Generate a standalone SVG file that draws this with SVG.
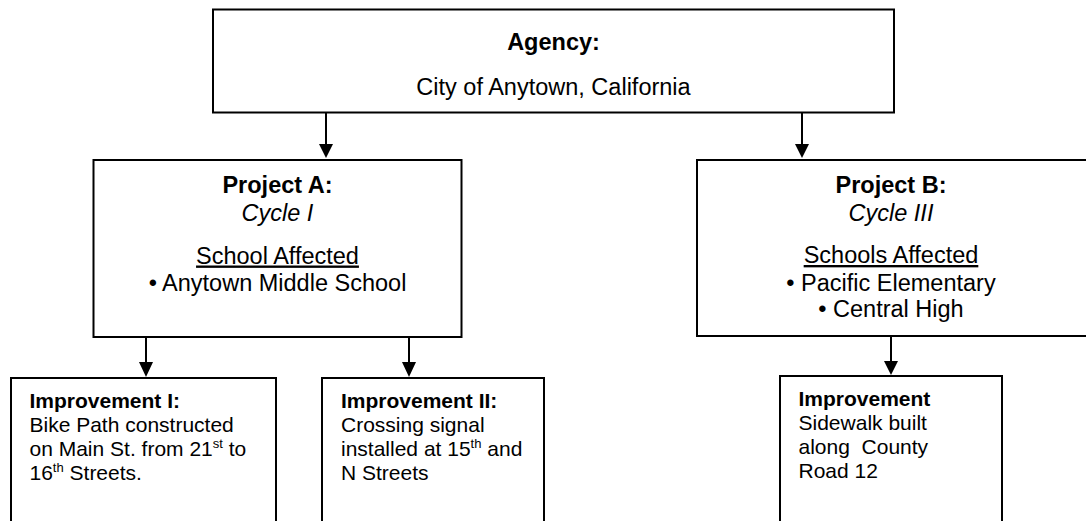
<svg xmlns="http://www.w3.org/2000/svg" width="1086" height="521" viewBox="0 0 1086 521">
  <style>
    .box { fill: #ffffff; stroke: #000000; stroke-width: 2; }
    .big { font-family: "Liberation Sans", Arial, sans-serif; font-size: 23.5px; fill: #000000; text-anchor: middle; }
    .small { font-family: "Liberation Sans", Arial, sans-serif; font-size: 21px; fill: #000000; }
    .b { font-weight: bold; }
    .i { font-style: italic; }
    .u { text-decoration: underline; }
    .sup { font-size: 13px; }
    .conn line { stroke: #000000; stroke-width: 2; }
    .conn polygon { fill: #000000; }
  </style>
  <rect x="0" y="0" width="1086" height="521" fill="#ffffff"/>

  <g id="connectors" class="conn">
    <line x1="326" y1="113" x2="326" y2="146"/>
    <polygon points="319,144 333,144 326,158"/>
    <line x1="802" y1="113" x2="802" y2="146"/>
    <polygon points="795,144 809,144 802,158"/>
    <line x1="146" y1="337" x2="146" y2="364"/>
    <polygon points="139,362 153,362 146,377"/>
    <line x1="409" y1="337" x2="409" y2="364"/>
    <polygon points="402,362 416,362 409,377"/>
    <line x1="891" y1="336" x2="891" y2="363"/>
    <polygon points="884,361 898,361 891,375"/>
  </g>

  <g id="agency">
    <rect class="box" x="213" y="9.5" width="681" height="103"/>
    <text class="big b" x="553.5" y="50">Agency:</text>
    <text class="big" x="553.5" y="95">City of Anytown, California</text>
  </g>

  <g id="projectA">
    <rect class="box" x="93.5" y="160" width="368" height="177"/>
    <text class="big b" x="277.5" y="193">Project A:</text>
    <text class="big i" x="277.5" y="221">Cycle I</text>
    <text class="big u" x="277.5" y="263.5">School Affected</text>
    <text class="big" x="277.5" y="291">• Anytown Middle School</text>
  </g>

  <g id="projectB">
    <rect class="box" x="697" y="160" width="400" height="176"/>
    <text class="big b" x="891" y="193">Project B:</text>
    <text class="big i" x="891" y="220.5">Cycle III</text>
    <text class="big u" x="891" y="263">Schools Affected</text>
    <text class="big" x="891" y="290.5">• Pacific Elementary</text>
    <text class="big" x="891" y="317">• Central High</text>
  </g>

  <g id="improvement1">
    <rect class="box" x="11" y="378" width="265" height="160"/>
    <text class="small b" x="29.5" y="407.5">Improvement I:</text>
    <text class="small" x="29.5" y="431.8">Bike Path constructed</text>
    <text class="small" x="29.5" y="456">on Main St. from 21<tspan class="sup" dy="-8">st</tspan><tspan dy="8"> to</tspan></text>
    <text class="small" x="29.5" y="480.3">16<tspan class="sup" dy="-8">th</tspan><tspan dy="8"> Streets.</tspan></text>
  </g>

  <g id="improvement2">
    <rect class="box" x="322" y="378" width="222" height="160"/>
    <text class="small b" x="341" y="407.5">Improvement II:</text>
    <text class="small" x="341" y="431.8">Crossing signal</text>
    <text class="small" x="341" y="456">installed at 15<tspan class="sup" dy="-8">th</tspan><tspan dy="8"> and</tspan></text>
    <text class="small" x="341" y="480.3">N Streets</text>
  </g>

  <g id="improvement3">
    <rect class="box" x="780" y="376" width="222" height="160"/>
    <text class="small b" x="798.5" y="405.5">Improvement</text>
    <text class="small" x="798.5" y="429.8">Sidewalk built</text>
    <text class="small" x="798.5" y="454" xml:space="preserve">along  County</text>
    <text class="small" x="798.5" y="478.3">Road 12</text>
  </g>
</svg>
